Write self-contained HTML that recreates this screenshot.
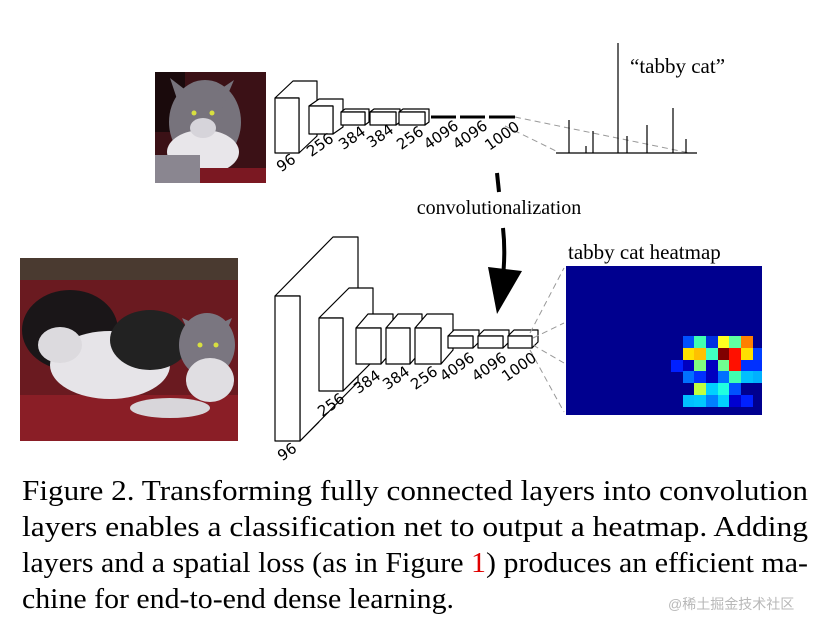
<!DOCTYPE html>
<html><head><meta charset="utf-8"><style>
html,body{margin:0;padding:0;background:#fff;}
svg{display:block}
</style></head><body>
<svg width="831" height="622" viewBox="0 0 831 622" xmlns="http://www.w3.org/2000/svg">
<!-- top photo -->
<rect x="155" y="72" width="111" height="111" fill="#3b1116"/>
<rect x="155" y="72" width="30" height="60" fill="#1a0a0c"/>
<ellipse cx="205" cy="122" rx="36" ry="42" fill="#77737c"/>
<polygon points="170,78 180,108 192,95" fill="#77737c"/>
<polygon points="234,80 222,108 212,95" fill="#77737c"/>
<ellipse cx="203" cy="152" rx="36" ry="22" fill="#e8e6ea"/>
<ellipse cx="203" cy="128" rx="13" ry="10" fill="#d6d4da"/>
<rect x="155" y="155" width="45" height="28" fill="#8a8690"/>
<rect x="200" y="168" width="66" height="15" fill="#7b1822"/>
<circle cx="194" cy="113" r="2.5" fill="#d8e040"/><circle cx="212" cy="113" r="2.5" fill="#d8e040"/>
<!-- bottom photo -->
<rect x="20" y="258" width="218" height="183" fill="#6a1a20"/>
<rect x="20" y="258" width="218" height="22" fill="#4a3a30"/>
<rect x="20" y="395" width="218" height="46" fill="#8a1e26"/>
<ellipse cx="70" cy="330" rx="48" ry="40" fill="#1a1618"/>
<ellipse cx="110" cy="365" rx="60" ry="34" fill="#e6e4e8"/>
<ellipse cx="60" cy="345" rx="22" ry="18" fill="#dcdade"/>
<ellipse cx="150" cy="340" rx="40" ry="30" fill="#222"/>
<ellipse cx="207" cy="345" rx="28" ry="32" fill="#7a7680"/>
<ellipse cx="210" cy="380" rx="24" ry="22" fill="#e0dee2"/>
<polygon points="182,318 190,335 200,326" fill="#7a7680"/><polygon points="232,318 225,335 215,326" fill="#7a7680"/>
<ellipse cx="170" cy="408" rx="40" ry="10" fill="#d8d6da"/>
<circle cx="200" cy="345" r="2.5" fill="#d8e040"/><circle cx="216" cy="345" r="2.5" fill="#d8e040"/>

<g fill="#fff" stroke="#000" stroke-width="1.2" stroke-linejoin="round">
<polygon points="275,98 293,81 317,81 317,136 299,153 299,98"/><rect x="275" y="98" width="24" height="55"/>
<polygon points="309,106 319,99 343,99 343,127 333,134 333,106"/><rect x="309" y="106" width="24" height="28"/>
<polygon points="341,112 345,109 369,109 369,122 365,125 365,112"/><rect x="341" y="112" width="24" height="13"/>
<polygon points="370,112 374,109 400,109 400,122 396,125 396,112"/><rect x="370" y="112" width="26" height="13"/>
<polygon points="399,112 403,109 429,109 429,122 425,125 425,112"/><rect x="399" y="112" width="26" height="13"/>
</g>
<g stroke="#000" stroke-width="3"><line x1="431" y1="117" x2="456" y2="117"/><line x1="460" y1="117" x2="485" y2="117"/><line x1="489" y1="117" x2="515" y2="117"/></g>
<g stroke="#999" stroke-width="1" stroke-dasharray="6,4" fill="none"><line x1="515" y1="117" x2="690" y2="153"/><line x1="505" y1="126" x2="556" y2="151"/></g>
<g stroke="#000" stroke-width="1.2">
<line x1="556" y1="153" x2="697" y2="153"/>
<line x1="569" y1="153" x2="569" y2="120"/><line x1="586" y1="153" x2="586" y2="146"/><line x1="593" y1="153" x2="593" y2="131"/><line x1="618" y1="153" x2="618" y2="43"/><line x1="627" y1="153" x2="627" y2="136"/><line x1="647" y1="153" x2="647" y2="125"/><line x1="673" y1="153" x2="673" y2="108"/><line x1="686" y1="153" x2="686" y2="139"/>
</g>
<text x="630" y="73" font-family="Liberation Serif, serif" font-size="21">“tabby cat”</text>
<g font-family="DejaVu Sans, sans-serif" font-size="15" text-anchor="middle">
<text transform="translate(289,167) rotate(-35)">96</text>
<text transform="translate(323,149) rotate(-35)">256</text>
<text transform="translate(355,142) rotate(-35)">384</text>
<text transform="translate(383,140) rotate(-35)">384</text>
<text transform="translate(413,142) rotate(-35)">256</text>
<text transform="translate(444,139) rotate(-35)">4096</text>
<text transform="translate(473,139) rotate(-35)">4096</text>
<text transform="translate(505,140) rotate(-35)">1000</text>
</g>
<!-- arrow -->
<line x1="497" y1="173" x2="499" y2="192" stroke="#000" stroke-width="4"/>
<path d="M503,228 Q506,255 502,285" stroke="#000" stroke-width="4" fill="none"/>
<polygon points="488,267 522,271 497,314" fill="#000"/>
<text x="499" y="214" font-family="Liberation Serif, serif" font-size="20" text-anchor="middle">convolutionalization</text>

<!-- bottom net -->
<g fill="#fff" stroke="#000" stroke-width="1.2" stroke-linejoin="round">
<polygon points="275,296 333,237 358,237 358,382 300,441 300,296"/><rect x="275" y="296" width="25" height="145"/>
<polygon points="319,318 349,288 373,288 373,361 343,391 343,318"/><rect x="319" y="318" width="24" height="73"/>
<polygon points="356,328 368,314 393,314 393,350 381,364 381,328"/><rect x="356" y="328" width="25" height="36"/>
<polygon points="386,328 398,314 422,314 422,350 410,364 410,328"/><rect x="386" y="328" width="24" height="36"/>
<polygon points="415,328 427,314 453,314 453,350 441,364 441,328"/><rect x="415" y="328" width="26" height="36"/>
<polygon points="448,336 454,330 479,330 479,342 473,348 473,336"/><rect x="448" y="336" width="25" height="12"/>
<polygon points="478,336 484,330 509,330 509,342 503,348 503,336"/><rect x="478" y="336" width="25" height="12"/>
<polygon points="508,336 514,330 538,330 538,342 532,348 532,336"/><rect x="508" y="336" width="24" height="12"/>
</g>
<g stroke="#000" stroke-width="1"><line x1="300" y1="441" x2="319" y2="422"/><line x1="343" y1="391" x2="356" y2="378"/></g>
<g stroke="#999" stroke-width="1" stroke-dasharray="6,4"><line x1="530" y1="333" x2="564" y2="268"/><line x1="533" y1="338" x2="564" y2="323"/><line x1="533" y1="345" x2="564" y2="363"/><line x1="530" y1="350" x2="564" y2="412"/></g>
<g font-family="DejaVu Sans, sans-serif" font-size="15" text-anchor="middle">
<text transform="translate(290,456) rotate(-35)">96</text>
<text transform="translate(334,409) rotate(-35)">256</text>
<text transform="translate(370,386) rotate(-35)">384</text>
<text transform="translate(399,382) rotate(-35)">384</text>
<text transform="translate(427,382) rotate(-35)">256</text>
<text transform="translate(460,371) rotate(-35)">4096</text>
<text transform="translate(492,371) rotate(-35)">4096</text>
<text transform="translate(522,371) rotate(-35)">1000</text>
</g>
<!-- heatmap -->
<text x="568" y="259" font-family="Liberation Serif, serif" font-size="21">tabby cat heatmap</text>
<rect x="566" y="266" width="196" height="149" fill="#00008f"/>
<g>
<rect x="683" y="336" width="12" height="12" fill="#0050ff"/><rect x="694" y="336" width="12" height="12" fill="#40ffb0"/><rect x="706" y="336" width="12" height="12" fill="#0030e0"/><rect x="718" y="336" width="12" height="12" fill="#ffff20"/><rect x="729" y="336" width="12" height="12" fill="#60ffa0"/><rect x="741" y="336" width="12" height="12" fill="#ff8000"/>
<rect x="683" y="348" width="12" height="12" fill="#ffe000"/><rect x="694" y="348" width="12" height="12" fill="#ffc000"/><rect x="706" y="348" width="12" height="12" fill="#40ffc0"/><rect x="718" y="348" width="12" height="12" fill="#800000"/><rect x="729" y="348" width="12" height="12" fill="#ff1000"/><rect x="741" y="348" width="12" height="12" fill="#ffe000"/><rect x="753" y="348" width="9" height="12" fill="#0040ff"/>
<rect x="671" y="360" width="12" height="12" fill="#0020ff"/><rect x="683" y="360" width="12" height="12" fill="#0000c0"/><rect x="694" y="360" width="12" height="12" fill="#80ff80"/><rect x="706" y="360" width="12" height="12" fill="#0000c0"/><rect x="718" y="360" width="12" height="12" fill="#70ff90"/><rect x="729" y="360" width="12" height="12" fill="#ff1000"/><rect x="741" y="360" width="12" height="12" fill="#0030ff"/><rect x="753" y="360" width="9" height="12" fill="#0030ff"/>
<rect x="683" y="371" width="12" height="12" fill="#0070ff"/><rect x="694" y="371" width="12" height="12" fill="#0030ff"/><rect x="706" y="371" width="12" height="12" fill="#0000c0"/><rect x="718" y="371" width="12" height="12" fill="#0070ff"/><rect x="729" y="371" width="12" height="12" fill="#40ffb0"/><rect x="741" y="371" width="12" height="12" fill="#00c0ff"/><rect x="753" y="371" width="9" height="12" fill="#00b0ff"/>
<rect x="694" y="383" width="12" height="12" fill="#c0ff40"/><rect x="706" y="383" width="12" height="12" fill="#00d0ff"/><rect x="718" y="383" width="12" height="12" fill="#20ffe0"/><rect x="729" y="383" width="12" height="12" fill="#0050ff"/>
<rect x="683" y="395" width="12" height="12" fill="#00c0ff"/><rect x="694" y="395" width="12" height="12" fill="#00c8ff"/><rect x="706" y="395" width="12" height="12" fill="#0080ff"/><rect x="718" y="395" width="12" height="12" fill="#00d0ff"/><rect x="729" y="395" width="12" height="12" fill="#0000d0"/><rect x="741" y="395" width="12" height="12" fill="#0020ff"/>
</g>
<!-- caption -->
<g font-family="Liberation Serif, serif" font-size="29" fill="#000">
<text x="22" y="500" textLength="786" lengthAdjust="spacingAndGlyphs">Figure 2.   Transforming fully connected layers into convolution</text>
<text x="22" y="536" textLength="786" lengthAdjust="spacingAndGlyphs">layers enables a classification net to output a heatmap.  Adding</text>
<text x="22" y="572" textLength="786" lengthAdjust="spacingAndGlyphs">layers and a spatial loss (as in Figure <tspan fill="#e00000">1</tspan>) produces an efficient ma-</text>
<text x="22" y="608" textLength="432" lengthAdjust="spacingAndGlyphs">chine for end-to-end dense learning.</text>
</g>
<text x="668" y="609" font-family="Liberation Sans, Noto Sans CJK SC, sans-serif" font-size="14" fill="#b8b8b8">@稀土掘金技术社区</text>
</svg>
</body></html>
